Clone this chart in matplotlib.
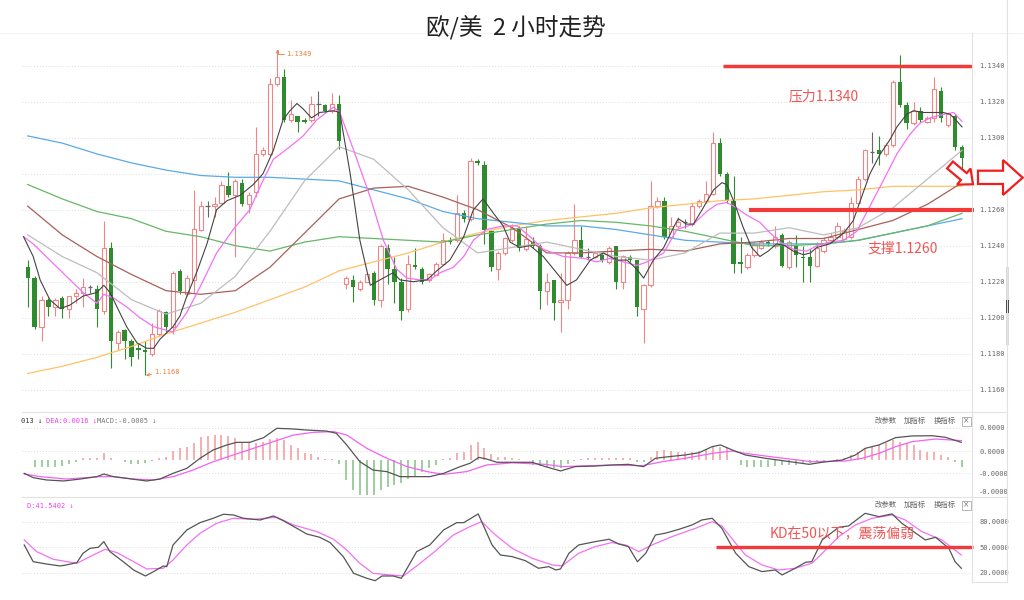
import matplotlib
matplotlib.use('Agg')
import matplotlib.pyplot as plt
from matplotlib.patches import Polygon, Rectangle
from matplotlib.lines import Line2D
import numpy as np

plt.rcParams['font.family'] = ['Noto Sans CJK SC', 'DejaVu Sans']

W, H = 1024, 600

# ---- EUR/USD 2h candles ----
opens = [1.1228, 1.1222, 1.1195, 1.1210, 1.1206, 1.1211, 1.1205, 1.1212, 1.1214, 1.1217,
         1.1216, 1.1204, 1.1239, 1.1186, 1.1193, 1.1187, 1.1183, 1.1182, 1.1180, 1.1191,
         1.1203, 1.1195, 1.1226, 1.1213, 1.1221, 1.1249, 1.1262, 1.1262, 1.1264, 1.1273,
         1.1268, 1.1275, 1.1263, 1.1270, 1.1291, 1.1291, 1.1330, 1.1334, 1.1310, 1.1312,
         1.1310, 1.1310, 1.1319, 1.1318, 1.1315, 1.1319,
         1.1219, 1.1221, 1.1216, 1.1220, 1.1225, 1.1210, 1.1239, 1.1227, 1.1220, 1.1205,
         1.1229, 1.1227, 1.1221, 1.1224, 1.1230, 1.1243, 1.1243, 1.1258, 1.1255, 1.1287,
         1.1285, 1.1248, 1.1227, 1.1236, 1.1243, 1.1250, 1.1238, 1.1242, 1.1240, 1.1215,
         1.1221, 1.1209, 1.1210, 1.1236, 1.1243, 1.1234, 1.1234, 1.1235, 1.1231, 1.1240,
         1.1220, 1.1234, 1.1232, 1.1205, 1.1218, 1.1262, 1.1265,
         1.1245, 1.1251, 1.1253, 1.1252, 1.1262, 1.1265, 1.1269,
         1.1297, 1.1280, 1.1265, 1.1231, 1.1228, 1.1235, 1.1239, 1.1242, 1.1240, 1.1246,
         1.1228, 1.1240, 1.1234, 1.1234, 1.1229,
         1.1237, 1.1243, 1.1245, 1.1244, 1.1245, 1.1264, 1.1277, 1.1292, 1.1293, 1.1291,
         1.1296, 1.1331, 1.1318, 1.1308, 1.1315, 1.1309, 1.1311, 1.1326, 1.1307, 1.1312, 1.1295]
highs = [1.1232, 1.1223, 1.1212, 1.1211, 1.1211, 1.1212, 1.1212, 1.1216, 1.1222, 1.1218,
         1.1218, 1.1254, 1.1242, 1.1193, 1.1194, 1.1188, 1.1186, 1.1187, 1.1197, 1.1205,
         1.1204, 1.1226, 1.1227, 1.1224, 1.1271, 1.1265, 1.1265, 1.1267, 1.1276, 1.1281,
         1.1277, 1.1277, 1.1270, 1.1306, 1.1295, 1.1333, 1.1349, 1.1338, 1.1321, 1.1312,
         1.1311, 1.1323, 1.1326, 1.1319, 1.1325, 1.1324,
         1.1223, 1.1224, 1.1221, 1.1225, 1.1226, 1.1241, 1.1241, 1.1234, 1.1222, 1.1235,
         1.1239, 1.1228, 1.1225, 1.1231, 1.1247, 1.1245, 1.1268, 1.1260, 1.1289, 1.1288,
         1.1287, 1.1249, 1.1237, 1.1245, 1.1252, 1.1251, 1.1251, 1.1245, 1.1241, 1.1225,
         1.1221, 1.1225, 1.1237, 1.1263, 1.1251, 1.1239, 1.1237, 1.1236, 1.1240, 1.1240,
         1.1235, 1.1235, 1.1232, 1.1219, 1.1276, 1.1267, 1.1267,
         1.1256, 1.1256, 1.1255, 1.1264, 1.1266, 1.1276, 1.1303,
         1.1300, 1.1281, 1.1279, 1.1245, 1.1236, 1.1242, 1.1243, 1.1243, 1.1251, 1.1247,
         1.1243, 1.1246, 1.1240, 1.1238, 1.1242,
         1.1245, 1.1247, 1.1253, 1.1250, 1.1267, 1.1279, 1.1294, 1.1303, 1.1301, 1.1297,
         1.1332, 1.1346, 1.1320, 1.1320, 1.1317, 1.1312, 1.1334, 1.1328, 1.1314, 1.1313, 1.1296]
lows = [1.1206, 1.1194, 1.1187, 1.1201, 1.1201, 1.1200, 1.1200, 1.1208, 1.1206, 1.1214,
        1.1195, 1.1202, 1.1172, 1.1182, 1.1177, 1.1173, 1.1177, 1.1168, 1.1179, 1.1190,
        1.1192, 1.1191, 1.1213, 1.1212, 1.1214, 1.1248, 1.1256, 1.1256, 1.1263, 1.1267,
        1.1234, 1.1262, 1.1258, 1.1267, 1.1290, 1.1290, 1.1329, 1.1309, 1.1309, 1.1303,
        1.1308, 1.1309, 1.1312, 1.1314, 1.1314, 1.1294,
        1.1216, 1.1209, 1.1215, 1.1220, 1.1207, 1.1206, 1.1219, 1.1208, 1.1199, 1.1203,
        1.1227, 1.1219, 1.1220, 1.1224, 1.1230, 1.1241, 1.1242, 1.1253, 1.1254, 1.1285,
        1.1241, 1.1226, 1.1221, 1.1235, 1.1242, 1.1237, 1.1237, 1.1239, 1.1205, 1.1207,
        1.1199, 1.1192, 1.1205, 1.1235, 1.1233, 1.1232, 1.1233, 1.1231, 1.1230, 1.1216,
        1.1216, 1.1231, 1.1201, 1.1186, 1.1217, 1.1261, 1.1244,
        1.1244, 1.1250, 1.1250, 1.1251, 1.1261, 1.1264, 1.1268,
        1.1279, 1.1264, 1.1225, 1.1225, 1.1227, 1.1234, 1.1238, 1.1240, 1.1239, 1.1228,
        1.1227, 1.1228, 1.1220, 1.1220, 1.1228,
        1.1236, 1.1242, 1.1244, 1.1243, 1.1244, 1.1263, 1.1276, 1.1286, 1.1285, 1.1290,
        1.1295, 1.1317, 1.1305, 1.1307, 1.1309, 1.1308, 1.1309, 1.1309, 1.1306, 1.1293, 1.1282]
closes = [1.1222, 1.1195, 1.1210, 1.1206, 1.1210, 1.1205, 1.1212, 1.1214, 1.1217, 1.1217,
          1.1205, 1.1239, 1.1187, 1.1192, 1.1187, 1.1178, 1.1182, 1.1181, 1.1191, 1.1204,
          1.1195, 1.1225, 1.1215, 1.1222, 1.1249, 1.1262, 1.1262, 1.1263, 1.1274, 1.1268,
          1.1276, 1.1263, 1.1268, 1.1291, 1.1293, 1.1330, 1.1334, 1.1310, 1.1313, 1.1309,
          1.1309, 1.1319, 1.1319, 1.1315, 1.1319, 1.1298,
          1.1222, 1.1217, 1.1220, 1.1224, 1.1210, 1.1240, 1.1227, 1.1220, 1.1204, 1.1230,
          1.1228, 1.1220, 1.1224, 1.1230, 1.1243, 1.1242, 1.1258, 1.1255, 1.1287, 1.1286,
          1.1249, 1.1228, 1.1236, 1.1244, 1.1250, 1.1239, 1.1244, 1.1240, 1.1215, 1.1220,
          1.1208, 1.1210, 1.1236, 1.1243, 1.1234, 1.1234, 1.1236, 1.1232, 1.1239, 1.1220,
          1.1234, 1.1232, 1.1206, 1.1218, 1.1262, 1.1265, 1.1245,
          1.1251, 1.1253, 1.1253, 1.1262, 1.1265, 1.1269, 1.1297,
          1.1280, 1.1265, 1.1230, 1.1230, 1.1235, 1.1241, 1.1242, 1.1241, 1.1245, 1.1229,
          1.1242, 1.1235, 1.1233, 1.1229, 1.1239,
          1.1243, 1.1245, 1.1251, 1.1248, 1.1264, 1.1277, 1.1293, 1.1292, 1.1291, 1.1296,
          1.1331, 1.1318, 1.1308, 1.1315, 1.1310, 1.1311, 1.1327, 1.1311, 1.1313, 1.1295, 1.1289]

# slow moving averages, read every 5 bars
slow_idx = list(range(0, 136, 5))
ma_blue = [1.1301, 1.1297, 1.1291, 1.1286, 1.1282, 1.1279, 1.1278, 1.1278, 1.1277, 1.1276,
           1.1271, 1.1266, 1.1259, 1.1255, 1.1253, 1.1251, 1.1251, 1.1249, 1.1246, 1.1243,
           1.1242, 1.1241, 1.1241, 1.1241, 1.1243, 1.1247, 1.1251, 1.1255]
ma_green = [1.1274, 1.1266, 1.1259, 1.1255, 1.1248, 1.1245, 1.1240, 1.1237, 1.1242, 1.1245,
            1.1244, 1.1243, 1.1242, 1.1246, 1.1249, 1.1252, 1.1254, 1.1253, 1.1251, 1.1248,
            1.1244, 1.1240, 1.1240, 1.1241, 1.1243, 1.1247, 1.1251, 1.1258]
ma_orange = [1.1169, 1.1173, 1.1178, 1.1184, 1.1191, 1.1197, 1.1203, 1.1210, 1.1217, 1.1226,
             1.1231, 1.1236, 1.1242, 1.1247, 1.1251, 1.1254, 1.1256, 1.1258, 1.1261, 1.1263,
             1.1265, 1.1266, 1.1268, 1.1270, 1.1271, 1.1273, 1.1273, 1.1273]
ma_brown = [1.1262, 1.1246, 1.1234, 1.1224, 1.1215, 1.1213, 1.1215, 1.1228, 1.1247, 1.1266,
            1.1272, 1.1273, 1.1267, 1.1260, 1.1250, 1.1236, 1.1236, 1.1237, 1.1238, 1.1237,
            1.1241, 1.1242, 1.1244, 1.1244, 1.1249, 1.1254, 1.1263, 1.1275]
ma_gray = [1.1246, 1.1234, 1.1225, 1.1210, 1.1202, 1.1208, 1.1223, 1.1248, 1.1276, 1.1295,
           1.1288, 1.1271, 1.1250, 1.1236, 1.1239, 1.1242, 1.1238, 1.1234, 1.1232, 1.1236,
           1.1247, 1.1247, 1.1250, 1.1246, 1.1250, 1.1261, 1.1277, 1.1293]

# fast averages (bar position, value)
ma5_idx = [-0.6, 0.8, 1.8, 3.2, 4.7, 6.1, 8.0, 10.0, 11.0, 11.9, 12.9, 14.3, 15.8, 17.2, 18.2,
           19.1, 21.0, 22.0, 23.0, 24.4, 25.9, 27.3, 28.8, 30.7, 32.6, 34.0, 35.5, 36.9, 37.9,
           38.9, 39.8, 41.0, 42.2, 44.2, 45.1, 46.6, 48.0, 49.5, 50.9, 52.8, 53.8, 55.7, 57.7,
           59.1, 61.0, 63.0, 64.4, 65.8, 67.3, 68.7, 69.7, 71.1, 72.6, 74.5, 76.4, 77.9, 79.3,
           81.3, 83.2, 85.1, 86.6, 88.0, 89.0, 90.4, 91.9, 93.3, 94.0, 95.2, 96.2, 97.6, 99.1,
           100.3, 101.0, 102.0, 103.4, 104.6, 105.8, 107.0, 108.2, 109.4, 110.6, 112.1, 113.1,
           114.0, 115.9, 117.9, 119.3, 120.3, 121.7, 123.2, 124.6, 125.6, 127.0, 128.0, 129.4,
           130.9, 132.3, 133.3, 134.3, 135.0]
ma5 = [1.1245, 1.1234, 1.1221, 1.1210, 1.1205, 1.1207, 1.1212, 1.1214, 1.1218, 1.1214, 1.1206,
       1.1195, 1.1186, 1.1183, 1.1183, 1.1188, 1.1195, 1.1201, 1.1212, 1.1225, 1.1241, 1.1260,
       1.1265, 1.1268, 1.1274, 1.1280, 1.1293, 1.1310, 1.1315, 1.1319, 1.1316, 1.1311, 1.1314,
       1.1315, 1.1314, 1.1280, 1.1243, 1.1218, 1.1221, 1.1225, 1.1221, 1.1220, 1.1221, 1.1226,
       1.1232, 1.1245, 1.1260, 1.1266, 1.1258, 1.1251, 1.1242, 1.1239, 1.1240, 1.1234, 1.1225,
       1.1218, 1.1221, 1.1232, 1.1236, 1.1232, 1.1232, 1.1227, 1.1222, 1.1232, 1.1239, 1.1250,
       1.1255, 1.1252, 1.1252, 1.1261, 1.1271, 1.1275, 1.1274, 1.1265, 1.1250, 1.1239, 1.1234,
       1.1237, 1.1241, 1.1240, 1.1237, 1.1235, 1.1236, 1.1239, 1.1241, 1.1247, 1.1254, 1.1265,
       1.1280, 1.1291, 1.1299, 1.1306, 1.1313, 1.1315, 1.1314, 1.1314, 1.1314, 1.1313, 1.1309,
       1.1306]
ma10_idx = [-0.6, 0.8, 3.2, 5.6, 8.0, 10.0, 11.0, 12.4, 14.3, 16.2, 18.2, 20.1, 21.0, 23.0,
            24.9, 27.3, 29.7, 32.1, 33.6, 35.5, 37.9, 39.8, 41.8, 44.2, 45.1, 47.1, 49.5, 51.4,
            53.3, 54.8, 56.7, 58.1, 59.6, 61.5, 63.0, 64.4, 66.3, 68.7, 70.7, 72.6, 74.5, 77.4,
            80.3, 82.2, 84.1, 86.1, 88.0, 89.5, 91.9, 93.8, 96.2, 98.1, 99.6, 101.0, 102.0,
            103.9, 105.8, 107.3, 108.7, 110.6, 112.6, 114.0, 115.9, 117.9, 119.8, 121.7, 123.6,
            125.6, 127.5, 128.9, 130.4, 132.3, 133.8, 135.0]
ma10 = [1.1245, 1.1241, 1.1232, 1.1223, 1.1214, 1.1208, 1.1213, 1.1211, 1.1206, 1.1200, 1.1195,
        1.1193, 1.1192, 1.1203, 1.1217, 1.1236, 1.1249, 1.1260, 1.1273, 1.1288, 1.1295, 1.1301,
        1.1310, 1.1317, 1.1314, 1.1293, 1.1267, 1.1243, 1.1227, 1.1222, 1.1221, 1.1221, 1.1225,
        1.1228, 1.1234, 1.1243, 1.1249, 1.1251, 1.1251, 1.1245, 1.1238, 1.1234, 1.1233, 1.1231,
        1.1233, 1.1231, 1.1229, 1.1231, 1.1236, 1.1249, 1.1252, 1.1259, 1.1263, 1.1264, 1.1262,
        1.1257, 1.1253, 1.1247, 1.1242, 1.1238, 1.1237, 1.1240, 1.1242, 1.1243, 1.1248, 1.1262,
        1.1276, 1.1291, 1.1302, 1.1308, 1.1311, 1.1313, 1.1314, 1.1309]

# MACD panel
macd_hist = [0, -5.8, -5.8, -5.8, -5.8, -4.9, -3.8, -1.5, 1.5, 2.0,
             2.0, 5.8, 1.5, 0, -2.0, -3.5, -3.5, -2.9, -0.6, 2.0,
             2.9, 8.2, 10.2, 11.7, 15.2, 19.9, 21.3, 21.9, 21.9, 21.3,
             19.6, 15.5, 16.1, 14.6, 15.5, 18.1, 19.6, 17.5, 13.2, 10.2,
             5.8, 5.0, 2.9, 0.9, 0.6, -3.8, -17.5, -26.3, -30.7, -30.7,
             -30.7, -26.3, -23.4, -21.9, -20.5, -16.7, -14.6, -10.2, -7.3, -4.4,
             0.9, 1.5, 5.8, 7.3, 13.2, 16.1, 10.8, 5.0, 2.9, 2.6,
             1.5, 0.5, 0, -4.4, -5.0, -5.8, -6.7, -7.3, -3.8, -1.0,
             0.9, 2.0, 2.0, 1.5, 2.0, 1.5, 2.0, 1.5, -2.0, -2.0,
             2.9, 8.2, 8.8, 7.9, 7.3, 7.3, 7.3, 7.9, 8.8, 11.7,
             11.7, 10.2, 0, -4.4, -5.8, -5.8, -5.8, -5.8, -5.3, -4.4,
             -4.4, -4.4, -3.8, -2.9, -2.0, -1.5, 0, 0.9, 2.0, 4.4,
             7.3, 10.8, 11.7, 13.2, 14.6, 17.5, 16.1, 14.6, 13.2, 8.8,
             7.3, 7.3, 4.4, 2.9, -1.5, -5.8]  # x 0.0001
dif_idx = [-0.5, 0.8, 2.7, 5.2, 7.6, 10.0, 11.0, 12.4, 14.3, 17.2, 19.1, 21.0, 23.0, 24.9, 26.8,
           28.8, 30.2, 32.1, 34.1, 36.0, 38.4, 40.3, 43.2, 44.6, 46.1, 48.0, 49.9, 51.9, 53.8,
           55.7, 58.1, 60.1, 62.5, 63.9, 65.2, 66.3, 67.8, 70.0, 72.9, 74.8, 77.0, 79.1, 82.0,
           84.4, 86.8, 89.0, 90.7, 92.6, 95.0, 97.0, 98.9, 100.1, 101.8, 103.7, 106.6, 109.5,
           112.9, 114.8, 117.7, 119.6, 121.0, 123.0, 125.4, 127.8, 130.7, 132.6, 134.9]
dif = [-11.7, -15.5, -17.5, -18.4, -16.7, -14.6, -12.3, -14.6, -16.1, -18.4, -16.7, -11.7, -7.3,
       1.5, 8.8, 13.2, 15.5, 15.5, 19.6, 27.8, 27.2, 26.3, 25.4, 23.4, 13.2, -1.5, -8.8, -10.2,
       -14.6, -14.6, -14.6, -11.7, -5.8, -2.9, 2.3, 0.9, -2.0, -2.0, -2.0, -5.8, -9.6, -5.8,
       -5.3, -4.4, -3.8, -5.8, 1.5, 2.9, 4.4, 6.4, 11.7, 13.2, 8.8, 4.4, 1.5, -0.9, -3.8, -2.0,
       0.0, 4.4, 10.2, 13.2, 19.6, 21.1, 21.3, 19.9, 15.5]
dea_idx = [-0.5, 1.8, 5.6, 10.4, 12.4, 15.3, 18.2, 21.0, 23.9, 26.8, 29.7, 32.6, 35.5, 38.4, 41.3,
           44.2, 46.1, 49.0, 51.9, 54.8, 57.7, 60.1, 63.4, 66.3, 70.0, 74.8, 77.2, 79.6, 84.4,
           88.8, 91.7, 95.0, 98.9, 101.8, 103.7, 108.5, 113.3, 118.1, 120.6, 123.0, 125.4, 127.8,
           131.2, 134.9]
dea = [-12.3, -14.6, -16.7, -14.6, -14.6, -16.7, -17.5, -14.6, -8.8, -1.5, 4.4, 10.2, 16.1, 21.9,
       24.3, 24.9, 21.9, 10.2, 1.5, -5.8, -10.2, -12.6, -10.2, -4.4, -2.5, -3.8, -5.8, -5.3, -4.4,
       -5.0, -1.5, 1.5, 5.8, 7.9, 5.8, 2.0, -1.5, -0.9, 1.5, 5.8, 11.7, 16.1, 18.4, 17.0]

# KD panel
k_idx = [-0.5, 0.8, 2.7, 4.7, 5.6, 7.1, 8.0, 9.0, 10.2, 11.0, 11.9, 13.8, 15.3, 17.0, 18.2, 19.6,
         20.1, 21.0, 23.0, 24.9, 26.8, 28.3, 29.7, 31.2, 33.6, 35.5, 36.9, 38.9, 40.3, 42.2,
         43.7, 45.6, 47.1, 49.0, 50.2, 51.2, 52.8, 54.0, 56.2, 58.1, 60.1, 62.0, 63.0, 65.1,
         67.1, 68.3, 70.0, 71.9, 73.8, 75.3, 76.3, 77.0, 78.2, 79.6, 82.0, 84.0, 85.4, 86.8,
         88.1, 89.3, 90.7, 92.1, 94.1, 96.0, 97.4, 98.9, 100.3, 102.3, 104.2, 106.1, 108.0,
         109.0, 110.9, 112.4, 113.3, 114.8, 117.2, 118.6, 121.0, 123.0, 124.9, 126.3, 127.8,
         129.7, 131.2, 133.1, 134.0, 134.9]
k_line = [52.7, 33.2, 30.5, 28.2, 29.4, 32.1, 43.0, 48.8, 50.0, 56.6, 44.9, 33.2, 23.5, 16.5,
          21.6, 28.2, 27.4, 52.7, 70.3, 78.8, 83.9, 88.6, 87.8, 83.9, 81.9, 86.6, 81.2, 72.2,
          65.6, 61.7, 55.5, 39.1, 19.6, 13.8, 11.0, 16.5, 16.5, 13.8, 44.9, 52.7, 70.3, 78.8,
          78.8, 89.0, 52.7, 41.0, 39.1, 34.4, 25.5, 27.4, 23.5, 24.7, 43.0, 52.7, 56.6, 59.4,
          53.9, 50.8, 33.2, 43.0, 64.4, 66.4, 71.0, 76.1, 81.9, 83.9, 72.2, 43.0, 27.4, 21.6,
          23.5, 17.7, 25.5, 32.5, 33.2, 58.6, 73.4, 74.9, 89.7, 85.8, 89.0, 78.1, 69.5, 58.6,
          61.7, 48.8, 33.2, 25.5]
d_idx = [-0.5, 1.3, 3.7, 7.1, 9.0, 11.2, 12.9, 15.3, 17.2, 19.6, 21.0, 23.0, 24.9, 27.3, 29.7,
         32.6, 36.0, 38.4, 41.8, 44.2, 46.1, 48.0, 49.9, 52.4, 54.3, 56.7, 59.1, 61.5, 63.9,
         65.6, 67.3, 70.0, 72.9, 75.8, 77.2, 79.6, 82.0, 84.4, 86.4, 88.3, 90.2, 93.1, 96.5,
         98.9, 100.3, 102.3, 103.7, 106.1, 108.5, 110.9, 113.3, 114.8, 117.2, 119.6, 122.0,
         124.9, 126.8, 129.2, 132.1, 134.9]
d_line = [58.6, 44.9, 36.0, 31.3, 39.1, 47.7, 43.8, 33.2, 24.7, 25.5, 35.2, 52.7, 66.4, 78.1,
          83.9, 82.7, 85.1, 76.1, 68.3, 59.4, 46.9, 31.3, 19.6, 17.7, 16.5, 31.3, 46.9, 64.4,
          74.2, 80.0, 66.4, 48.8, 37.1, 29.4, 28.2, 43.0, 50.8, 55.5, 52.7, 44.9, 52.7, 62.5,
          72.2, 80.0, 74.9, 54.7, 41.0, 29.4, 23.5, 25.5, 31.3, 43.0, 62.5, 76.1, 83.9, 87.8,
          81.9, 68.3, 58.6, 41.0]

price_ticks = [1.1160, 1.1180, 1.1200, 1.1220, 1.1240, 1.1260, 1.1280, 1.1300, 1.1320, 1.1340]
resistance = 1.1340
support = 1.1260

RED = '#f08585'
GREEN = '#2e8b2e'
LINE_RED = '#f23a3a'
TXT_RED = '#f25555'
GRID = '#dcdcdc'

fig = plt.figure(figsize=(W / 100, H / 100), dpi=100)
fig.patch.set_facecolor('white')


def px_axes(x0, y0, x1, y1):
    a = fig.add_axes([x0 / W, 1 - y1 / H, (x1 - x0) / W, (y1 - y0) / H])
    for s in a.spines.values():
        s.set_visible(False)
    a.set_xticks([])
    a.set_xlim(-0.82, 136.3)
    a.yaxis.tick_right()
    a.tick_params(axis='y', length=0, pad=5.8, labelsize=5, labelcolor='#666')
    return a


def ftext(x, y, s, **kw):
    fig.text(x / W, 1 - y / H, s, **kw)


def fline(xs, ys, **kw):
    fig.add_artist(Line2D([v / W for v in xs], [1 - v / H for v in ys],
                          transform=fig.transFigure, **kw))


# ---------------- main price panel ----------------
ax = px_axes(22, 45, 971, 408)
ax.set_ylim(1.1340 - 342.3 / 18000, 1.1340 + 20.7 / 18000)
for t in price_ticks:
    ax.axhline(t, color=GRID, lw=0.7, ls=(0, (1, 2)), zorder=0)
ax.set_yticks(price_ticks)
ax.set_yticklabels([f'{t:.4f}' for t in price_ticks], fontfamily='DejaVu Sans Mono')

x = np.arange(len(closes))
o, h, l, c = (np.array(v) for v in (opens, highs, lows, closes))
up, dn, fl = c > o, c < o, c == o
ax.vlines(x[up], l[up], h[up], color=RED, lw=0.8, zorder=2)
ax.vlines(x[dn], l[dn], h[dn], color=GREEN, lw=0.8, zorder=2)
ax.vlines(x[fl], l[fl], h[fl], color='#666', lw=0.8, zorder=2)
ax.bar(x[up], np.maximum(c[up] - o[up], 0.00002), bottom=o[up], width=0.62,
       facecolor='white', edgecolor=RED, lw=0.8, zorder=3)
ax.bar(x[dn], np.maximum(o[dn] - c[dn], 0.00002), bottom=c[dn], width=0.62,
       color=GREEN, lw=0, zorder=3)
ax.hlines(c[fl], x[fl] - 0.31, x[fl] + 0.31, color='#666', lw=0.9, zorder=3)

ax.plot(slow_idx, ma_orange, color='#ffc266', lw=0.9, zorder=4)
ax.plot(slow_idx, ma_blue, color='#5aaae6', lw=0.9, zorder=4)
ax.plot(slow_idx, ma_green, color='#66b866', lw=0.9, zorder=4)
ax.plot(slow_idx, ma_brown, color='#a8605a', lw=0.9, zorder=4)
ax.plot(slow_idx, ma_gray, color='#bdbdbd', lw=0.9, zorder=4)
ax.plot(ma10_idx, ma10, color='#f570f5', lw=0.9, zorder=5)
ax.plot(ma5_idx, ma5, color='#444444', lw=0.8, zorder=6)

ax.annotate('1.1349', xy=(36.1, 1.13490), xytext=(37.4, 1.13466), fontsize=5,
            color='#e8803a', fontfamily='DejaVu Sans Mono', va='center',
            arrowprops=dict(arrowstyle='->', color='#e8803a', lw=0.6,
                            connectionstyle='angle,angleA=0,angleB=90', shrinkA=0, shrinkB=0))
ax.annotate('1.1168', xy=(17.1, 1.11680), xytext=(18.3, 1.11700), fontsize=5,
            color='#e8803a', fontfamily='DejaVu Sans Mono', va='center',
            arrowprops=dict(arrowstyle='->', color='#e8803a', lw=0.6, shrinkA=0, shrinkB=0))

ax.plot([100.5, 136.5], [resistance, resistance], color=LINE_RED, lw=2.5,
        solid_capstyle='butt', clip_on=False, zorder=7)
ax.plot([104.2, 136.7], [support, support], color=LINE_RED, lw=3.0,
        solid_capstyle='butt', clip_on=False, zorder=7)
ftext(789, 96, '压力1.1340', fontsize=10, color=TXT_RED, va='center')
ftext(868, 249, '支撑1.1260', fontsize=10, color=TXT_RED, va='center')

# ---------------- MACD panel ----------------
am = px_axes(22, 412, 971, 496)
am.set_ylim(-84 / 11400 + 48 / 11400, 48 / 11400)
am.set_ylim((460 - 496) / 11400, (460 - 412) / 11400)
macd_ticks = [(460 - 428) / 11400, (460 - 451) / 11400, (460 - 473) / 11400, (460 - 492) / 11400]
for t in macd_ticks[:3]:
    am.axhline(t, color=GRID, lw=0.7, ls=(0, (1, 2)), zorder=0)
am.set_yticks(macd_ticks)
am.set_yticklabels(['0.0000', '0.0000', '-0.0000', '-0.0000'], fontfamily='DejaVu Sans Mono')
hist = np.array(macd_hist) * 1e-4
hx = np.arange(len(hist))
am.vlines(hx[hist > 0], 0, hist[hist > 0], color='#f29a9a', lw=1.1)
am.vlines(hx[hist < 0], 0, hist[hist < 0], color='#84c084', lw=1.1)
am.plot(dea_idx, np.array(dea) * 1e-4, color='#f560f5', lw=0.9)
am.plot(dif_idx, np.array(dif) * 1e-4, color='#555555', lw=0.9)

ftext(21, 421, '013 \u2193', fontsize=5, color='#333', va='center', fontfamily='DejaVu Sans Mono')
ftext(46, 421, 'DEA:0.0016 \u2193', fontsize=5, color='#f040f0', va='center',
      fontfamily='DejaVu Sans Mono')
ftext(97, 421, 'MACD:-0.0005 \u2193', fontsize=5, color='#777', va='center',
      fontfamily='DejaVu Sans Mono')

# ---------------- KD panel ----------------
ak = px_axes(22, 497, 971, 582)
ak.set_ylim(50 + (547.3 - 582) / 0.856, 50 + (547.3 - 497) / 0.856)
for t in [80, 50, 20]:
    ak.axhline(t, color=GRID, lw=0.7, ls=(0, (1, 2)), zorder=0)
ak.set_yticks([80, 50, 20])
ak.set_yticklabels(['80.0000', '50.0000', '20.0000'], fontfamily='DejaVu Sans Mono')
ak.plot(d_idx, d_line, color='#f570f5', lw=0.9)
ak.plot(k_idx, k_line, color='#555555', lw=0.9)
ak.plot([99.5, 136.6], [50, 50], color=LINE_RED, lw=2.4, solid_capstyle='butt',
        clip_on=False, zorder=7)
ftext(770, 533, 'KD在50以下，震荡偏弱', fontsize=10, color=TXT_RED, va='center')
ftext(27, 506, 'D:41.5402 \u2193', fontsize=5, color='#f040f0', va='center',
      fontfamily='DejaVu Sans Mono')

# panel buttons
for yb in (421, 505):
    ftext(875, yb, '改参数', fontsize=5.3, color='#666', va='center')
    ftext(904, yb, '加指标', fontsize=5.3, color='#666', va='center')
    ftext(934, yb, '换指标', fontsize=5.3, color='#666', va='center')
    fig.add_artist(Rectangle((962 / W, 1 - (yb + 4.5) / H), 8.5 / W, 9 / H,
                             transform=fig.transFigure, fill=False, ec='#aaa', lw=0.6))
    ftext(966.2, yb, '\u00d7', fontsize=5.5, color='#777', ha='center', va='center',
          fontfamily='DejaVu Sans')

# frame lines
fline([0, 1024], [33, 33], color='#f2f2f2', lw=0.8)
fline([22, 1007], [412, 412], color='#e2e2e2', lw=0.8)
fline([22, 1007], [497, 497], color='#e2e2e2', lw=0.8)
fline([972, 972], [33, 582], color='#e2e2e2', lw=0.8)
fline([1007, 1007], [0, 582], color='#e2e2e2', lw=0.8)
fline([972, 1007], [582, 582], color='#e2e2e2', lw=0.8)
fig.add_artist(Rectangle((1006 / W, 1 - 345 / H), 3 / W, 78 / H, transform=fig.transFigure,
                         color='#dadada', lw=0))
fig.add_artist(Rectangle((1006 / W, 1 - 313 / H), 3 / W, 13 / H, transform=fig.transFigure,
                         color='#444', lw=0))

# hollow red arrows at the right edge
right_arrow = [(978, 170.7), (1003, 170.7), (1003, 160), (1022.7, 177.7),
               (1003, 195), (1003, 184), (978, 184)]
fig.add_artist(Polygon([(px / W, 1 - py / H) for px, py in right_arrow], closed=True,
                       transform=fig.transFigure, fc='white', ec='#f01e1e', lw=1.6, zorder=10))
L, w, hw, hl = 30, 9, 21, 12
shape = np.array([(0, -w / 2), (L - hl, -w / 2), (L - hl, -hw / 2), (L, 0),
                  (L - hl, hw / 2), (L - hl, w / 2), (0, w / 2)])
ang = np.deg2rad(40)
rot = np.array([[np.cos(ang), -np.sin(ang)], [np.sin(ang), np.cos(ang)]])
pts = shape @ rot.T + np.array([950, 165])
fig.add_artist(Polygon([(px / W, 1 - py / H) for px, py in pts], closed=True,
                       transform=fig.transFigure, fc='white', ec='#f01e1e', lw=1.6, zorder=10))

# title
ftext(516, 28, '欧/美  2 小时走势', fontsize=17, color='#222', ha='center', va='center')

fig.savefig('out.png', dpi=100, facecolor='white')
